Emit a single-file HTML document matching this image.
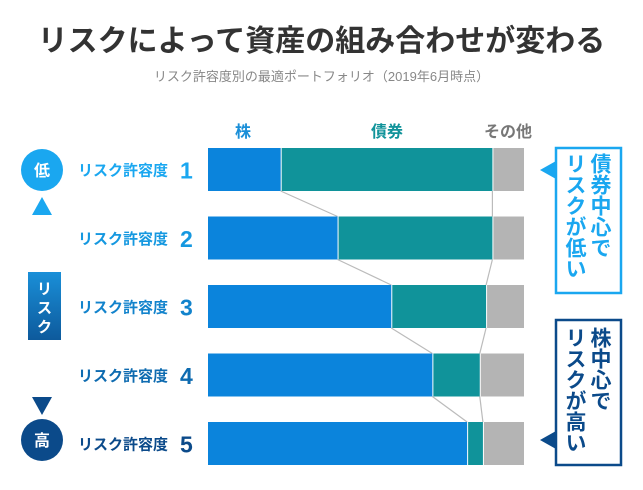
<!DOCTYPE html>
<html><head><meta charset="utf-8"><style>
body{margin:0;background:#fff;font-family:"Liberation Sans","Noto Sans CJK JP",sans-serif;}
#wrap{position:relative;width:643px;height:490px;overflow:hidden;}
.abs{position:absolute;}
</style></head><body>
<div id="wrap">
<div class="abs" style="left:0;width:643px;top:16px;text-align:center;font-size:30px;font-weight:bold;color:#333;">リスクによって資産の組み合わせが変わる</div>
<div class="abs" style="left:0;width:643px;top:66px;text-align:center;font-size:13px;color:#888;">リスク許容度別の最適ポートフォリオ（2019年6月時点）</div>
<svg class="abs" style="left:0;top:0" width="643" height="490" id="svg">
<defs><linearGradient id="g" x1="0" y1="0" x2="0" y2="1"><stop offset="0" stop-color="#1aa7f0"/><stop offset="1" stop-color="#0b4a8a"/></linearGradient>
<linearGradient id="g2" x1="0" y1="0" x2="0" y2="1"><stop offset="0" stop-color="#1a8fd8"/><stop offset="1" stop-color="#0d5a9c"/></linearGradient></defs>
<line x1="42" y1="212" x2="42" y2="400" stroke="url(#g)" stroke-width="5"/>
<polygon points="42,197 32,215 52,215" fill="#1aa7f0"/>
<polygon points="42,415 32,397 52,397" fill="#0b4a8a"/>
<rect x="28" y="272" width="33" height="68" fill="url(#g2)"/>
<text x="44.5" y="294" text-anchor="middle" font-size="15" fill="#fff" font-weight="bold">リ</text>
<text x="44.5" y="313" text-anchor="middle" font-size="15" fill="#fff" font-weight="bold">ス</text>
<text x="44.5" y="332" text-anchor="middle" font-size="15" fill="#fff" font-weight="bold">ク</text>
<circle cx="42" cy="170" r="21" fill="#1aa7f0"/>
<text x="42" y="176" text-anchor="middle" font-size="16" font-weight="bold" fill="#fff">低</text>
<circle cx="42" cy="440" r="21" fill="#0b4a8a"/>
<text x="42" y="446" text-anchor="middle" font-size="16" font-weight="bold" fill="#fff">高</text>
<text x="243" y="137" text-anchor="middle" font-size="16" font-weight="bold" fill="#1a8fd8">株</text>
<text x="387" y="137" text-anchor="middle" font-size="16" font-weight="bold" fill="#10939a">債券</text>
<text x="508" y="137" text-anchor="middle" font-size="16" font-weight="bold" fill="#777">その他</text>
<rect x="556" y="148" width="65" height="145" fill="#fff" stroke="#1aa7f0" stroke-width="2.5"/>
<polygon points="540,170 556,161 556,179" fill="#1aa7f0"/>
<rect x="556" y="320" width="65" height="145" fill="#fff" stroke="#0b4a8a" stroke-width="2.5"/>
<polygon points="540,440 556,431 556,449" fill="#0b4a8a"/>
</svg>
<div class="abs" style="left:562px;top:153px;height:140px;writing-mode:vertical-rl;font-size:21px;font-weight:bold;color:#1aa7f0;line-height:25px;">債券中心で<br>リスクが低い</div>
<div class="abs" style="left:562px;top:327px;height:140px;writing-mode:vertical-rl;font-size:21px;font-weight:bold;color:#0b4a8a;line-height:25px;">株中心で<br>リスクが高い</div>
</div>
<script>
const levels=["1","2","3","4","5"];
const stock=[23,41,58,71,82];
const bond=[67,49,30,15,5];
const other=[10,10,12,14,13];
const X0=208,W=316,Y0=148,H=43,STEP=68.5;
const xs=v=>X0+v/100*W;
const ys=i=>Y0+i*STEP;
const svg=document.getElementById('svg');
const NS='http://www.w3.org/2000/svg';
const labColors=['#1aa7f0','#1598e0','#1283cc','#0e6bb0','#0b4a8a'];
function mk(t,a){const e=document.createElementNS(NS,t);for(const k in a)e.setAttribute(k,a[k]);svg.appendChild(e);return e;}
levels.forEach((lv,i)=>{
 const y=ys(i);
 const s=stock[i],b=bond[i],o=other[i];
 const r1=mk('rect',{x:xs(0),y:y,width:xs(s)-xs(0),height:H,fill:'#0b84dc'});
 
 
 const r2=mk('rect',{x:xs(s)+1,y:y,width:xs(s+b)-xs(s)-1,height:H,fill:'#10939a'});
 
 
 const r3=mk('rect',{x:xs(s+b)+1,y:y,width:xs(s+b+o)-xs(s+b)-1,height:H,fill:'#b4b4b4'});
 
 
 const t=mk('text',{x:78,y:y+H/2+6,'font-size':15,'font-weight':'bold',fill:labColors[i]});
 t.textContent='リスク許容度';
 
 
 const n=mk('text',{x:180,y:y+H/2+9,'font-size':23,'font-weight':'bold',fill:labColors[i]});
 n.textContent=lv;
 
 
 if(i<levels.length-1){
  const l1=mk('line',{x1:xs(s),y1:y+H,x2:xs(stock[i+1]),y2:ys(i+1),stroke:'#bbb','stroke-width':1.2});
  
  
  const l2=mk('line',{x1:xs(s+b),y1:y+H,x2:xs(stock[i+1]+bond[i+1]),y2:ys(i+1),stroke:'#bbb','stroke-width':1.2});
  
  
 }
});
</script>
</body></html>
